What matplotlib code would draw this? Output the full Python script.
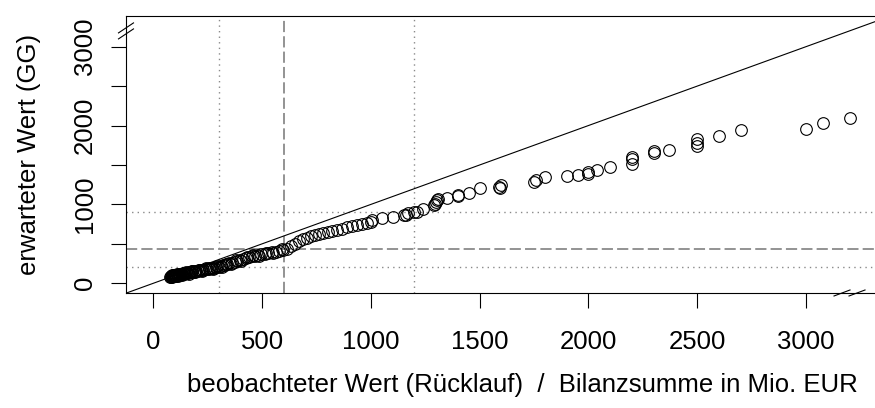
import numpy as np
import matplotlib.pyplot as plt
import matplotlib.transforms as mtransforms

plt.rcParams['font.family'] = ['Liberation Sans', 'DejaVu Sans']
FONTSIZE = 18.5

# observed value (x) vs expected value (y)
obs = [78, 80, 82, 85, 86, 88, 90, 92, 93, 95, 97, 98, 100, 102, 103, 105,
       107, 108, 110, 112, 113, 115, 117, 118, 120, 122, 124, 127, 130, 132,
       134, 138, 140, 142, 146, 150, 152, 155, 160, 163, 165, 170, 175, 178,
       180, 186, 190, 192, 198, 205, 208, 212, 220, 225, 228, 236, 240, 245,
       254, 258, 263, 272, 276, 281, 290, 295, 300, 310, 315, 320, 330, 335,
       340, 350, 356, 362, 374, 380, 386, 398, 404, 410, 424, 430, 438, 452,
       460, 466, 480, 488, 496, 512, 520, 528, 545, 552, 562, 580, 590, 598,
       615, 632, 650, 668, 686, 705, 724, 743, 762, 782, 802, 822, 845, 868,
       890, 912, 935, 958, 980, 1000, 1005, 1050, 1100, 1150, 1160, 1170, 1200,
       1210, 1240, 1290, 1295, 1300, 1305, 1310, 1350, 1400, 1400, 1450, 1500,
       1590, 1600, 1595, 1750, 1760, 1800, 1900, 1950, 2000, 2000, 2040, 2100,
       2200, 2200, 2200, 2300, 2300, 2370, 2500, 2500, 2500, 2600, 2700, 3000,
       3080, 3200]
expd = [80, 92, 86, 88, 100, 84, 92, 104, 90, 96, 108, 94, 99, 88, 102, 98,
        112, 106, 104, 96, 110, 108, 118, 113, 111, 102, 117, 115, 121, 110,
        119, 126, 134, 124, 130, 128, 140, 135, 133, 122, 140, 138, 146, 156,
        150, 148, 140, 155, 160, 158, 172, 166, 170, 158, 168, 176, 190, 182,
        180, 196, 188, 194, 182, 198, 204, 220, 210, 216, 204, 226, 232, 246,
        244, 252, 240, 262, 272, 290, 284, 296, 284, 306, 318, 334, 330, 342,
        360, 350, 358, 346, 366, 374, 390, 382, 392, 380, 402, 414, 430, 428,
        440, 470, 500, 530, 556, 578, 598, 612, 622, 634, 646, 660, 676, 690,
        708, 722, 738, 752, 768, 780, 800, 824, 844, 870, 866, 887, 907,
        900, 938, 990, 1010, 1034, 1050, 1065, 1077, 1106, 1119, 1148, 1204,
        1217, 1246, 1204, 1288, 1309, 1343, 1360, 1369, 1385, 1411, 1436, 1470,
        1508, 1572, 1597, 1648, 1677, 1689, 1740, 1782, 1825, 1871, 1943, 1956,
        2028, 2099]

# reference values
vref_dotted = [300, 1200]
vref_dashed = [600]
href_dotted = [210, 907]
href_dashed = [431]

xticks = [0, 500, 1000, 1500, 2000, 2500, 3000]
xtick_labels = ["0", "500", "1000", "1500", "2000", "2500", "3000"]
yticks = [0, 500, 1000, 1500, 2000, 2500, 3000]
ytick_labels = ["0", "", "1000", "", "2000", "", "3000"]
breakpos = 3200

fig = plt.figure(figsize=(8.75, 4.08), dpi=100)
ax = fig.add_axes([0.144, 0.2819, 0.9051, 0.6789])
ax.set_xlim(-125.5, 3514.6)
ax.set_ylim(-123, 3389)

ref_col = "#8a8a8a"
for v in vref_dotted:
    ax.axvline(v, color=ref_col, lw=1.0, dashes=(1.0, 3.0))
for v in vref_dashed:
    ax.axvline(v, color=ref_col, lw=1.3, dashes=(6.2, 2.3))
for h in href_dotted:
    ax.axhline(h, color=ref_col, lw=1.0, dashes=(1.0, 3.0))
for h in href_dashed:
    ax.axhline(h, color=ref_col, lw=1.3, dashes=(6.2, 2.3))

ax.axline((0, 0), slope=1, color="black", lw=0.8)
ax.plot(obs, expd, "o", mfc="none", mec="black", ms=8.4, mew=0.8)

ax.set_xticks(xticks)
ax.set_xticklabels(xtick_labels, fontsize=FONTSIZE)
ax.set_yticks(yticks)
ax.set_yticklabels(ytick_labels, fontsize=FONTSIZE, rotation=90, va="center")
ax.tick_params(axis="both", length=10.8, width=0.8, direction="out")
ax.tick_params(axis="x", pad=15.5)
ax.tick_params(axis="y", pad=10)
for s in ax.spines.values():
    s.set_linewidth(0.8)

ax.set_xlabel("beobachteter Wert (Rücklauf)  /  Bilanzsumme in Mio. EUR", fontsize=FONTSIZE)
ax.set_ylabel("erwarteter Wert (GG)", fontsize=FONTSIZE)
axw = 0.9051 * 875
axh = 0.6789 * 408
ax.yaxis.set_label_coords((41 - 126) / axw, (293 - 154.5) / axh)
ax.xaxis.set_label_coords((522 - 126) / axw, (293 - 373) / axh)

# axis break marks
ybot = ax.get_ylim()[0]
xleft = ax.get_xlim()[0]
t_x = fig.dpi_scale_trans + mtransforms.ScaledTranslation(breakpos, ybot, ax.transData)
t_y = fig.dpi_scale_trans + mtransforms.ScaledTranslation(xleft, breakpos, ax.transData)
for off in (-0.075, 0.075):
    ax.plot([off - 0.08, off + 0.08], [-0.03, 0.03], color="black", lw=0.8,
            transform=t_x, clip_on=False)
    ax.plot([-0.075, 0.075], [off * 0.4 - 0.05, off * 0.4 + 0.05], color="black", lw=0.8,
            transform=t_y, clip_on=False)

plt.savefig("out.png", dpi=100)
